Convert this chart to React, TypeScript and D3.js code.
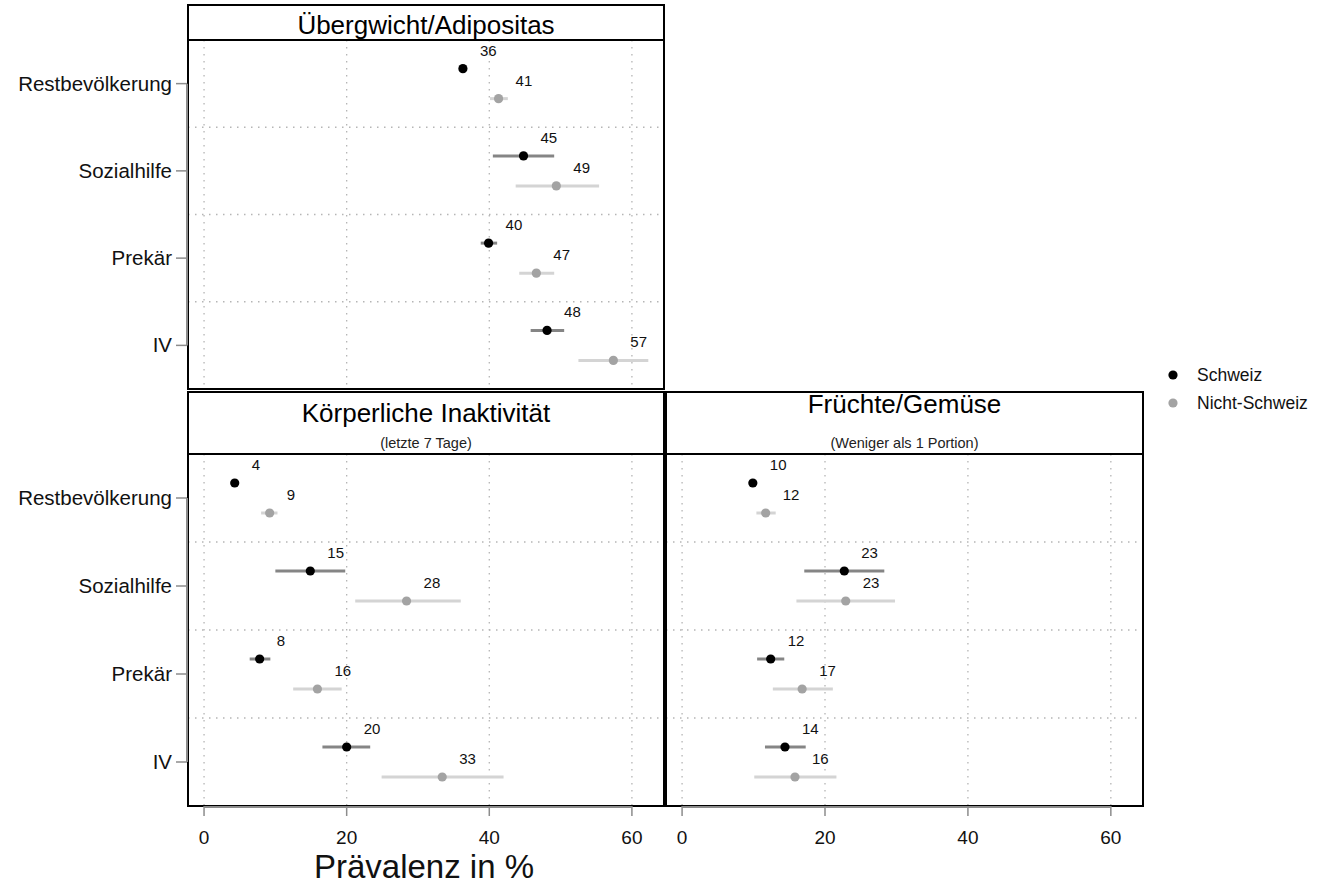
import React from "react";
import * as d3 from "d3";

// categories (rows) and legend groups
const categories = ["Restbevölkerung", "Sozialhilfe", "Prekär", "IV"];
const groups = ["Schweiz", "Nicht-Schweiz"];
const xTicks = [0, 20, 40, 60];

// Übergewicht/Adipositas
const obesitySchweiz = [36.3, 44.8, 39.9, 48.1];
const obesitySchweizLow = [35.8, 40.5, 38.8, 45.8];
const obesitySchweizHigh = [36.8, 49.1, 41.1, 50.5];
const obesityNicht = [41.3, 49.4, 46.6, 57.4];
const obesityNichtLow = [40.1, 43.7, 44.2, 52.5];
const obesityNichtHigh = [42.6, 55.4, 49.1, 62.3];

// Körperliche Inaktivität
const inactivitySchweiz = [4.3, 14.9, 7.8, 20.0];
const inactivitySchweizLow = [3.9, 10.0, 6.4, 16.6];
const inactivitySchweizHigh = [4.7, 19.8, 9.3, 23.3];
const inactivityNicht = [9.2, 28.4, 15.9, 33.4];
const inactivityNichtLow = [8.0, 21.2, 12.5, 24.9];
const inactivityNichtHigh = [10.3, 36.0, 19.3, 42.0];

// Früchte/Gemüse
const fruitSchweiz = [9.9, 22.7, 12.4, 14.4];
const fruitSchweizLow = [9.5, 17.1, 10.5, 11.6];
const fruitSchweizHigh = [10.3, 28.3, 14.3, 17.3];
const fruitNicht = [11.7, 22.9, 16.8, 15.8];
const fruitNichtLow = [10.4, 16.0, 12.7, 10.1];
const fruitNichtHigh = [13.1, 29.8, 21.1, 21.6];

const FONT = "'Liberation Sans', Arial, sans-serif";
const colors = {
  point: ["#000000", "#a3a3a3"],
  ci: ["#858585", "#d4d4d4"],
};

type Series = { v: number[]; lo: number[]; hi: number[] };
type PanelDef = {
  title: string;
  subtitle?: string;
  titleY: number;
  x0: number;
  x1: number;
  stripTop: number;
  stripBot: number;
  bottom: number;
  leftAxis: boolean;
  bottomAxis: boolean;
  series: Series[];
};

const panels: PanelDef[] = [
  {
    title: "Übergwicht/Adipositas",
    titleY: 34,
    x0: 188, x1: 664, stripTop: 5, stripBot: 40, bottom: 389,
    leftAxis: true, bottomAxis: false,
    series: [
      { v: obesitySchweiz, lo: obesitySchweizLow, hi: obesitySchweizHigh },
      { v: obesityNicht, lo: obesityNichtLow, hi: obesityNichtHigh },
    ],
  },
  {
    title: "Körperliche Inaktivität",
    subtitle: "(letzte 7 Tage)",
    titleY: 422,
    x0: 188, x1: 664, stripTop: 392, stripBot: 454, bottom: 806,
    leftAxis: true, bottomAxis: true,
    series: [
      { v: inactivitySchweiz, lo: inactivitySchweizLow, hi: inactivitySchweizHigh },
      { v: inactivityNicht, lo: inactivityNichtLow, hi: inactivityNichtHigh },
    ],
  },
  {
    title: "Früchte/Gemüse",
    subtitle: "(Weniger als 1 Portion)",
    titleY: 413,
    x0: 666, x1: 1143, stripTop: 392, stripBot: 454, bottom: 806,
    leftAxis: false, bottomAxis: true,
    series: [
      { v: fruitSchweiz, lo: fruitSchweizLow, hi: fruitSchweizHigh },
      { v: fruitNicht, lo: fruitNichtLow, hi: fruitNichtHigh },
    ],
  },
];

const Panel = ({ p }: { p: PanelDef }) => {
  const x = d3.scaleLinear().domain([-2.25, 64.5]).range([p.x0, p.x1]);
  const y = d3.scaleBand<string>().domain(categories).range([p.stripBot, p.bottom]);
  const bw = y.bandwidth();
  const offset = [-15, 15];
  const cy = (c: string) => (y(c) as number) + bw / 2;
  const midX = (p.x0 + p.x1) / 2;

  return (
    <g>
      {/* grid */}
      {xTicks.map((t) => (
        <line key={"vx" + t} x1={x(t)} x2={x(t)} y1={p.stripBot} y2={p.bottom}
          stroke="#b5b5b5" strokeWidth={1.3} strokeDasharray="1.5,5.5" />
      ))}
      {categories.slice(1).map((c) => (
        <line key={"hy" + c} x1={p.x0} x2={p.x1} y1={y(c)} y2={y(c)}
          stroke="#b5b5b5" strokeWidth={1.3} strokeDasharray="1.5,5.5" />
      ))}

      {/* CI lines and points */}
      {p.series.map((s, gi) => (
        <g key={"s" + gi}>
          {categories.map((c, i) => (
            <g key={c}>
              <line x1={x(s.lo[i])} x2={x(s.hi[i])} y1={cy(c) + offset[gi]} y2={cy(c) + offset[gi]}
                stroke={colors.ci[gi]} strokeWidth={3} />
              <circle cx={x(s.v[i])} cy={cy(c) + offset[gi]} r={4.6} fill={colors.point[gi]} />
              <text x={x(s.v[i]) + 17} y={cy(c) + offset[gi] - 13} fontSize={15} fontFamily={FONT}
                fill="#111">{Math.round(s.v[i])}</text>
            </g>
          ))}
        </g>
      ))}

      {/* strip */}
      <rect x={p.x0} y={p.stripTop} width={p.x1 - p.x0} height={p.stripBot - p.stripTop}
        fill="#fff" stroke="#000" strokeWidth={2} />
      <text x={midX} y={p.titleY} textAnchor="middle" fontSize={26} fontFamily={FONT} fill="#000">{p.title}</text>
      {p.subtitle && (
        <text x={midX} y={448} textAnchor="middle" fontSize={14.5} fontFamily={FONT} fill="#222">{p.subtitle}</text>
      )}

      {/* panel border */}
      <rect x={p.x0} y={p.stripBot} width={p.x1 - p.x0} height={p.bottom - p.stripBot}
        fill="none" stroke="#000" strokeWidth={2} />

      {/* left axis */}
      {p.leftAxis && (
        <g>
          <line x1={p.x0 - 1} x2={p.x0 - 1} y1={cy(categories[0])} y2={cy(categories[categories.length - 1])}
            stroke="#8c8c8c" strokeWidth={2} />
          {categories.map((c) => (
            <g key={"yl" + c}>
              <line x1={p.x0 - 12} x2={p.x0 - 1} y1={cy(c)} y2={cy(c)} stroke="#8c8c8c" strokeWidth={1.5} />
              <text x={p.x0 - 16} y={cy(c) + 7} textAnchor="end" fontSize={20.5} fontFamily={FONT} fill="#111">{c}</text>
            </g>
          ))}
        </g>
      )}

      {/* bottom axis */}
      {p.bottomAxis && (
        <g>
          <line x1={x(xTicks[0])} x2={x(xTicks[xTicks.length - 1])} y1={p.bottom + 1} y2={p.bottom + 1}
            stroke="#8c8c8c" strokeWidth={2} />
          {xTicks.map((t) => (
            <g key={"xt" + t}>
              <line x1={x(t)} x2={x(t)} y1={p.bottom} y2={p.bottom + 10} stroke="#8c8c8c" strokeWidth={1.5} />
              <text x={x(t)} y={p.bottom + 38} textAnchor="middle" fontSize={19} fontFamily={FONT} fill="#111">{t}</text>
            </g>
          ))}
        </g>
      )}
    </g>
  );
};

export default function App() {
  return (
    <svg width={1321} height={885} style={{ position: "absolute", left: 0, top: 0, background: "#fff" }}>
      <rect width={1321} height={885} fill="#fff" />
      {panels.map((p) => (
        <Panel key={p.title} p={p} />
      ))}
      <text x={424} y={878} textAnchor="middle" fontSize={33} fontFamily={FONT} fill="#111">Prävalenz in %</text>

      {/* legend */}
      {groups.map((g, i) => (
        <g key={g}>
          <circle cx={1173} cy={375 + i * 28} r={4.6} fill={colors.point[i]} />
          <text x={1197} y={381 + i * 28} fontSize={17.5} fontFamily={FONT} fill="#111">{g}</text>
        </g>
      ))}
    </svg>
  );
}
